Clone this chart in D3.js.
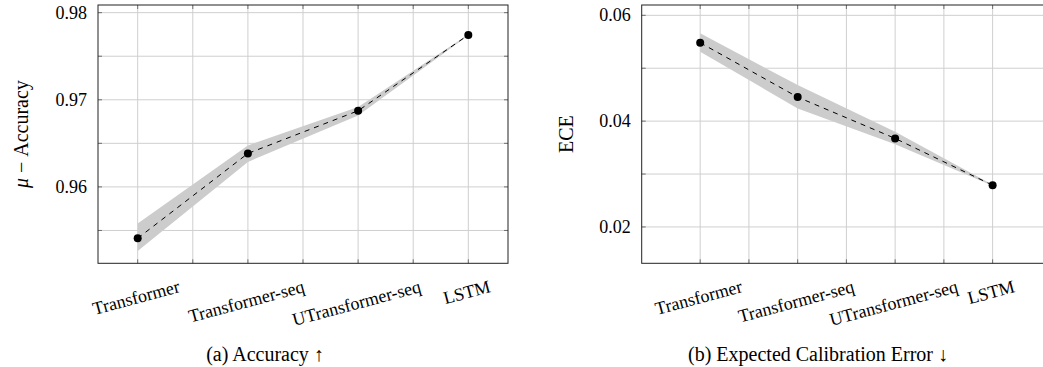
<!DOCTYPE html>
<html>
<head>
<meta charset="utf-8">
<script src="https://cdn.jsdelivr.net/npm/d3@7"></script>
<style>
  html, body { margin: 0; padding: 0; background: #fff; }
  svg { display: block; }
</style>
</head>
<body>
<svg id="chart" width="1043" height="367"></svg>
<script>
// Models compared in both panels
const categories = ["Transformer", "Transformer-seq", "UTransformer-seq", "LSTM"];

// Accuracy: mean and spread band
const accMean = [0.9541, 0.96384, 0.96874, 0.97744];
const accLow  = [0.95264, 0.96287, 0.96820, 0.97738];
const accHigh = [0.95579, 0.96476, 0.96916, 0.97750];

// Expected calibration error: mean and spread band
const eceMean = [0.05482, 0.04454, 0.03673, 0.02789];
const eceLow  = [0.05311, 0.04240, 0.03565, 0.02780];
const eceHigh = [0.05660, 0.04681, 0.03798, 0.02798];

// Axis ticks
const accMajorTicks = [0.96, 0.97, 0.98];
const accMinorTicks = [0.955, 0.965, 0.975];
const eceMajorTicks = [0.02, 0.04, 0.06];
const eceMinorTicks = [0.03, 0.05];

const FONT = "'Liberation Serif', 'DejaVu Serif', serif";

const svg = d3.select("#chart")
  .attr("font-family", FONT);

const panels = [
  {
    mean: accMean, low: accLow, high: accHigh,
    major: accMajorTicks, minor: accMinorTicks,
    xDomain: [-0.36, 3.36], xRange: [98, 508],
    yDomain: [0.95123, 0.98088],
    yLabel: ["\u03bc", " \u2212 Accuracy"], yLabelX: 28,
    tickFmt: d3.format(".2f"),
    caption: "(a) Accuracy \u2191", captionX: 265
  },
  {
    mean: eceMean, low: eceLow, high: eceHigh,
    major: eceMajorTicks, minor: eceMinorTicks,
    xDomain: [-0.6, 3.6], xRange: [641.7, 1051.1],
    yDomain: [0.01313, 0.06195],
    yLabel: ["", "ECE"], yLabelX: 573,
    tickFmt: d3.format(".2f"),
    caption: "(b) Expected Calibration Error \u2193", captionX: 818
  }
];

const plotTop = 5, plotBottom = 263.3;
const tickFont = 18;

panels.forEach(p => {
  const x = d3.scaleLinear().domain(p.xDomain).range(p.xRange);
  const y = d3.scaleLinear().domain(p.yDomain).range([plotBottom, plotTop]);
  const [x0, x1] = p.xRange;
  const g = svg.append("g");

  const idx = d3.range(categories.length);
  const minorX = idx.slice(0, -1).map(i => i + 0.5);
  const allX = idx.concat(minorX);
  const allY = p.major.concat(p.minor);

  // grid lines (major + minor)
  g.append("g").selectAll("line").data(allX).join("line")
    .attr("x1", d => x(d)).attr("x2", d => x(d))
    .attr("y1", plotTop).attr("y2", plotBottom)
    .attr("stroke", "#cfcfcf").attr("stroke-width", 1);
  g.append("g").selectAll("line").data(allY).join("line")
    .attr("x1", x0).attr("x2", x1)
    .attr("y1", d => y(d)).attr("y2", d => y(d))
    .attr("stroke", "#cfcfcf").attr("stroke-width", 1);

  // inward tick marks on all four sides
  const tl = 4;
  const tickG = g.append("g").attr("stroke", "#707070").attr("stroke-width", 1);
  allX.forEach(v => {
    tickG.append("line").attr("x1", x(v)).attr("x2", x(v)).attr("y1", plotBottom).attr("y2", plotBottom - tl);
    tickG.append("line").attr("x1", x(v)).attr("x2", x(v)).attr("y1", plotTop).attr("y2", plotTop + tl);
  });
  allY.forEach(v => {
    tickG.append("line").attr("x1", x0).attr("x2", x0 + tl).attr("y1", y(v)).attr("y2", y(v));
    tickG.append("line").attr("x1", x1).attr("x2", x1 - tl).attr("y1", y(v)).attr("y2", y(v));
  });

  // spread band
  const area = d3.area()
    .x((d, i) => x(i))
    .y0((d, i) => y(p.low[i]))
    .y1((d, i) => y(p.high[i]));
  g.append("path").datum(p.mean).attr("d", area)
    .attr("fill", "#cccccc").attr("stroke", "none");

  // dashed mean line
  const line = d3.line().x((d, i) => x(i)).y(d => y(d));
  g.append("path").datum(p.mean).attr("d", line)
    .attr("fill", "none").attr("stroke", "#000")
    .attr("stroke-width", 1).attr("stroke-dasharray", "5,5");

  // markers
  g.append("g").selectAll("circle").data(p.mean).join("circle")
    .attr("cx", (d, i) => x(i)).attr("cy", d => y(d))
    .attr("r", 4).attr("fill", "#000");

  // frame
  g.append("rect").attr("x", x0).attr("y", plotTop)
    .attr("width", x1 - x0).attr("height", plotBottom - plotTop)
    .attr("fill", "none").attr("stroke", "#222").attr("stroke-width", 1);

  // y tick labels
  g.append("g").selectAll("text").data(p.major).join("text")
    .attr("x", x0 - 11).attr("y", d => y(d))
    .attr("text-anchor", "end").attr("dominant-baseline", "central")
    .attr("font-size", tickFont)
    .text(d => p.tickFmt(d));

  // rotated x tick labels
  const xl = g.append("g");
  categories.forEach((c, i) => {
    const t = xl.append("text")
      .attr("text-anchor", "middle")
      .attr("font-size", tickFont)
      .text(c);
    const w = t.node().getComputedTextLength();
    const s = Math.sin(15 * Math.PI / 180), co = Math.cos(15 * Math.PI / 180);
    const bx = x(i);
    const by = 280 + (w / 2) * s + 0.68 * tickFont * co;
    t.attr("x", bx).attr("y", by)
      .attr("transform", `rotate(-15, ${bx}, ${by})`);
  });

  // y axis label
  const cy = (plotTop + plotBottom) / 2;
  const yl = g.append("text")
    .attr("transform", `translate(${p.yLabelX}, ${cy}) rotate(-90)`)
    .attr("text-anchor", "middle")
    .attr("font-size", 20);
  if (p.yLabel[0]) yl.append("tspan").attr("font-style", "italic").text(p.yLabel[0]);
  yl.append("tspan").text(p.yLabel[1]);

  // caption
  g.append("text")
    .attr("x", p.captionX).attr("y", 361)
    .attr("text-anchor", "middle")
    .attr("font-size", 20)
    .text(p.caption);
});
</script>
</body>
</html>
